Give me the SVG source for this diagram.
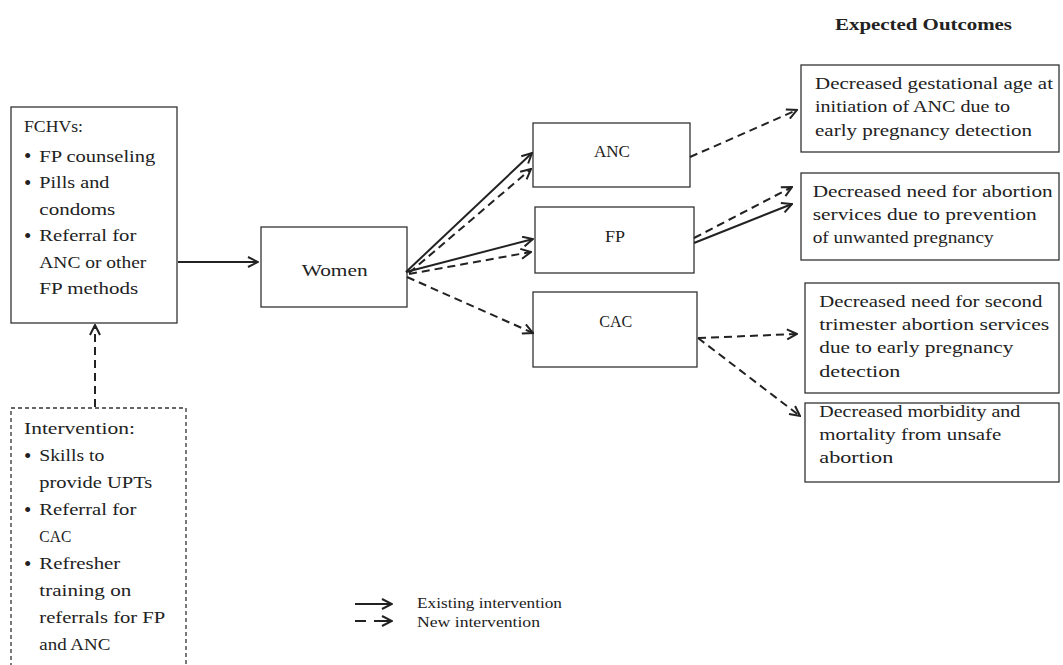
<svg xmlns="http://www.w3.org/2000/svg" width="1063" height="665" viewBox="0 0 1063 665">
<defs>
<style>
.t{font-family:"Liberation Serif","Times New Roman",serif;font-size:17px;fill:#222}
.bu{font-size:21px}
.b{font-weight:bold}
.lg{font-size:14px}
.box{fill:#fff;stroke:#333;stroke-width:1.3}
.dbox{fill:#fff;stroke:#333;stroke-width:1.3;stroke-dasharray:4 3}
.sol{stroke:#222;stroke-width:2;fill:none;marker-end:url(#ah)}
.dsh{stroke:#222;stroke-width:2;fill:none;stroke-dasharray:8 5;marker-end:url(#ah)}
</style>
<marker id="ah" viewBox="0 0 12 12" refX="11" refY="6" markerWidth="12" markerHeight="12" markerUnits="userSpaceOnUse" orient="auto">
<path d="M1,1 L11,6 L1,11" fill="none" stroke="#222" stroke-width="2"/>
</marker>
</defs>
<rect width="1063" height="665" fill="#fff"/>

<text class="t b" x="835" y="30" textLength="177" lengthAdjust="spacingAndGlyphs">Expected Outcomes</text>

<g id="fchvs">
<rect class="box" x="11" y="107" width="166" height="216"/>
<text class="t" x="24" y="132" textLength="59" lengthAdjust="spacingAndGlyphs">FCHVs:</text>
<text class="t bu" x="24" y="163">•</text>
<text class="t" x="39.3" y="161.5" textLength="116" lengthAdjust="spacingAndGlyphs">FP counseling</text>
<text class="t bu" x="24" y="189.5">•</text>
<text class="t" x="39.3" y="188" textLength="70" lengthAdjust="spacingAndGlyphs">Pills and</text>
<text class="t" x="39.3" y="214.5" textLength="76" lengthAdjust="spacingAndGlyphs">condoms</text>
<text class="t bu" x="24" y="242.5">•</text>
<text class="t" x="39.3" y="241" textLength="97" lengthAdjust="spacingAndGlyphs">Referral for</text>
<text class="t" x="39.3" y="267.5" textLength="107" lengthAdjust="spacingAndGlyphs">ANC or other</text>
<text class="t" x="39.3" y="294" textLength="99" lengthAdjust="spacingAndGlyphs">FP methods</text>
</g>

<g id="intervention">
<rect class="dbox" x="11" y="408" width="175" height="280"/>
<text class="t" x="24" y="434" textLength="111" lengthAdjust="spacingAndGlyphs">Intervention:</text>
<text class="t bu" x="24" y="462.5">•</text>
<text class="t" x="39.3" y="461" textLength="65" lengthAdjust="spacingAndGlyphs">Skills to</text>
<text class="t" x="39.3" y="488" textLength="113" lengthAdjust="spacingAndGlyphs">provide UPTs</text>
<text class="t bu" x="24" y="516.5">•</text>
<text class="t" x="39.3" y="515" textLength="97" lengthAdjust="spacingAndGlyphs">Referral for</text>
<text class="t" x="39.3" y="542" textLength="32" lengthAdjust="spacingAndGlyphs">CAC</text>
<text class="t bu" x="24" y="570.5">•</text>
<text class="t" x="39.3" y="569" textLength="81" lengthAdjust="spacingAndGlyphs">Refresher</text>
<text class="t" x="39.3" y="596" textLength="92" lengthAdjust="spacingAndGlyphs">training on</text>
<text class="t" x="39.3" y="623" textLength="126" lengthAdjust="spacingAndGlyphs">referrals for FP</text>
<text class="t" x="39.3" y="650" textLength="71" lengthAdjust="spacingAndGlyphs">and ANC</text>
</g>

<g id="women">
<rect class="box" x="261" y="227" width="146" height="80"/>
<text class="t" x="301.7" y="275.7" textLength="66" lengthAdjust="spacingAndGlyphs">Women</text>
</g>

<g id="anc">
<rect class="box" x="533" y="123" width="157" height="64"/>
<text class="t" x="594" y="157.3" textLength="36" lengthAdjust="spacingAndGlyphs">ANC</text>
</g>

<g id="fp">
<rect class="box" x="535" y="207" width="159" height="66"/>
<text class="t" x="605" y="241.7" textLength="20" lengthAdjust="spacingAndGlyphs">FP</text>
</g>

<g id="cac">
<rect class="box" x="533" y="292" width="164" height="75"/>
<text class="t" x="599.3" y="326.7" textLength="33" lengthAdjust="spacingAndGlyphs">CAC</text>
</g>

<g id="outcome1">
<rect class="box" x="801" y="65" width="258" height="87"/>
<text class="t" x="815" y="89" textLength="238" lengthAdjust="spacingAndGlyphs">Decreased gestational age at</text>
<text class="t" x="815" y="112.3" textLength="195" lengthAdjust="spacingAndGlyphs">initiation of ANC due to</text>
<text class="t" x="815" y="135.5" textLength="217" lengthAdjust="spacingAndGlyphs">early pregnancy detection</text>
</g>

<g id="outcome2">
<rect class="box" x="801" y="173" width="258" height="87"/>
<text class="t" x="812.7" y="196.7" textLength="240" lengthAdjust="spacingAndGlyphs">Decreased need for abortion</text>
<text class="t" x="812.7" y="220" textLength="224" lengthAdjust="spacingAndGlyphs">services due to prevention</text>
<text class="t" x="812.7" y="243" textLength="181" lengthAdjust="spacingAndGlyphs">of unwanted pregnancy</text>
</g>

<g id="outcome3">
<rect class="box" x="805" y="283" width="254" height="110"/>
<text class="t" x="819.3" y="306.7" textLength="223" lengthAdjust="spacingAndGlyphs">Decreased need for second</text>
<text class="t" x="819.3" y="330" textLength="230" lengthAdjust="spacingAndGlyphs">trimester abortion services</text>
<text class="t" x="819.3" y="353" textLength="194" lengthAdjust="spacingAndGlyphs">due to early pregnancy</text>
<text class="t" x="819.3" y="376.5" textLength="81" lengthAdjust="spacingAndGlyphs">detection</text>
</g>

<g id="outcome4">
<rect class="box" x="805" y="403" width="254" height="79"/>
<text class="t" x="819.3" y="416.7" textLength="201" lengthAdjust="spacingAndGlyphs">Decreased morbidity and</text>
<text class="t" x="819.3" y="440" textLength="182" lengthAdjust="spacingAndGlyphs">mortality from unsafe</text>
<text class="t" x="819.3" y="463" textLength="74" lengthAdjust="spacingAndGlyphs">abortion</text>
</g>

<g id="connectors">
<line class="sol" x1="178" y1="262" x2="258" y2="262"/>
<line class="dsh" x1="95" y1="407" x2="95" y2="325"/>
<line class="sol" x1="406" y1="272" x2="532" y2="153"/>
<line class="dsh" x1="409" y1="273" x2="531" y2="169"/>
<line class="sol" x1="406" y1="272" x2="533" y2="239"/>
<line class="dsh" x1="409" y1="274" x2="531" y2="252"/>
<line class="dsh" x1="407" y1="277" x2="533" y2="333"/>
<line class="dsh" x1="690" y1="157" x2="797" y2="110"/>
<line class="dsh" x1="694" y1="238" x2="792" y2="187"/>
<line class="sol" x1="694" y1="243" x2="792" y2="204"/>
<line class="dsh" x1="698" y1="338" x2="797" y2="334"/>
<line class="dsh" x1="698" y1="338" x2="800" y2="416"/>
</g>

<g id="legend">
<line class="sol" x1="355" y1="604" x2="392" y2="604"/>
<line stroke="#222" stroke-width="2" x1="355" y1="621" x2="366" y2="621"/>
<line class="sol" x1="374" y1="621" x2="392" y2="621"/>
<text class="t lg" x="417" y="608" textLength="145" lengthAdjust="spacingAndGlyphs">Existing intervention</text>
<text class="t lg" x="417" y="626.5" textLength="123" lengthAdjust="spacingAndGlyphs">New intervention</text>
</g>
</svg>
